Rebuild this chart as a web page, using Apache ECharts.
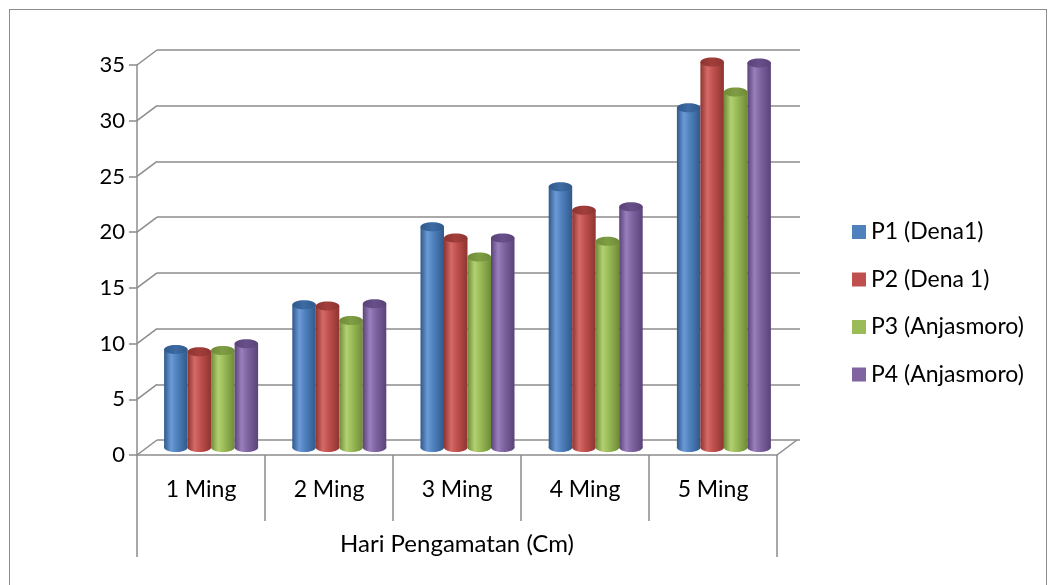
<!DOCTYPE html>
<html>
<head>
<meta charset="utf-8">
<script src="https://cdn.jsdelivr.net/npm/echarts@6/dist/echarts.min.js"></script>
<style>
html,body{margin:0;padding:0;background:#fff;}
#frame{position:absolute;left:9px;top:9px;width:1038px;height:600px;border:1.5px solid #8c8c8c;box-sizing:border-box;}
#chart{position:absolute;left:0;top:0;width:1055px;height:585px;}
</style>
</head>
<body>
<div id="frame"></div>
<div id="chart"></div>
<script>
const categories = ['1 Ming', '2 Ming', '3 Ming', '4 Ming', '5 Ming'];
const axisTitle = 'Hari Pengamatan (Cm)';
const seriesNames = ['P1 (Dena1)', 'P2 (Dena 1)', 'P3 (Anjasmoro)', 'P4 (Anjasmoro)'];
const p1 = [8.8, 12.8, 19.8, 23.4, 30.5];
const p2 = [8.6, 12.7, 18.8, 21.3, 34.6];
const p3 = [8.7, 11.4, 17.1, 18.5, 31.9];
const p4 = [9.3, 12.9, 18.8, 21.6, 34.5];
const yTicks = [0, 5, 10, 15, 20, 25, 30, 35];

const seriesValues = [p1, p2, p3, p4];
const palette = [
  {base: '#4F81BD', dark: '#30598c', light: '#6b9ad6', cap: '#3d6ba3'},
  {base: '#C0504D', dark: '#8e3431', light: '#d56a67', cap: '#a23e3b'},
  {base: '#9BBB59', dark: '#6f8b37', light: '#b2d070', cap: '#7f9e44'},
  {base: '#8064A2', dark: '#5a4378', light: '#9a7fbd', cap: '#694f8a'}
];
const FONT = 'Lato, "Open Sans", sans-serif';
const GRAY = '#8c8c8c';
const BAR_W = 23.5;
const DEPTH_X = 20, DEPTH_Y = 15;

const chart = echarts.init(document.getElementById('chart'), null, {renderer: 'canvas'});

function cylinderSeries(idx) {
  const pal = palette[idx];
  const bodyGrad = new echarts.graphic.LinearGradient(0, 0, 1, 0, [
    {offset: 0, color: pal.dark},
    {offset: 0.3, color: pal.light},
    {offset: 0.55, color: pal.base},
    {offset: 1, color: pal.dark}
  ]);
  const capGrad = new echarts.graphic.LinearGradient(0, 0, 1, 0, [
    {offset: 0, color: pal.dark},
    {offset: 0.5, color: pal.cap},
    {offset: 1, color: pal.dark}
  ]);
  return {
    name: seriesNames[idx],
    type: 'custom',
    xAxisIndex: 0,
    yAxisIndex: 0,
    itemStyle: {color: pal.base},
    encode: {x: 0, y: 1},
    data: seriesValues[idx].map((v, i) => [i, v]),
    renderItem: function (params, api) {
      const cat = api.value(0), val = api.value(1);
      const base = api.coord([cat, 0]);
      const top = api.coord([cat, val]);
      const cx = base[0] + (idx - 1.5) * BAR_W;
      const rx = BAR_W / 2, ry = 4.5;
      return {
        type: 'group',
        children: [
          {type: 'ellipse', shape: {cx: cx, cy: base[1], rx: rx, ry: ry}, style: {fill: bodyGrad}},
          {type: 'rect', shape: {x: cx - rx, y: top[1], width: BAR_W, height: base[1] - top[1]}, style: {fill: bodyGrad}},
          {type: 'ellipse', shape: {cx: cx, cy: top[1], rx: rx, ry: ry}, style: {fill: capGrad}}
        ]
      };
    }
  };
}

const edgeSeries = {
  type: 'custom',
  name: 'edges',
  xAxisIndex: 2,
  yAxisIndex: 2,
  silent: true,
  encode: {x: 0, y: 1},
  data: yTicks.map(v => [0, v]),
  renderItem: function (params, api) {
    const p = api.coord([0, api.value(1)]);
    const band = api.size([1, 0])[0];
    const x0 = p[0] - band / 2;
    const children = [{
      type: 'line',
      shape: {x1: x0, y1: p[1], x2: x0 + DEPTH_X, y2: p[1] - DEPTH_Y},
      style: {stroke: GRAY, lineWidth: 1.5}
    }];
    if (api.value(1) === 0) {
      const x1 = x0 + band * categories.length;
      children.push({
        type: 'line',
        shape: {x1: x1, y1: p[1], x2: x1 + DEPTH_X, y2: p[1] - DEPTH_Y},
        style: {stroke: GRAY, lineWidth: 1.5}
      });
    }
    return {type: 'group', children: children};
  }
};

const option = {
  animation: false,
  backgroundColor: 'transparent',
  textStyle: {fontFamily: FONT},
  legend: {
    orient: 'vertical',
    left: 847,
    top: 215,
    itemWidth: 14,
    itemHeight: 14,
    itemGap: 23.5,
    icon: 'rect',
    data: seriesNames,
    textStyle: {fontFamily: FONT, fontSize: 23, lineHeight: 24, color: '#000'}
  },
  grid: [
    {left: 147, top: 57.5, width: 641, height: 390},
    {left: 157, top: 50, width: 643, height: 390},
    {left: 137, top: 65, width: 640, height: 390}
  ],
  xAxis: [
    {type: 'category', gridIndex: 0, data: categories, show: false},
    {type: 'category', gridIndex: 1, data: categories, show: false},
    {
      type: 'category', gridIndex: 2, data: categories, position: 'bottom',
      axisLine: {show: true, lineStyle: {color: GRAY, width: 1.5}},
      axisTick: {show: true, length: 66, lineStyle: {color: GRAY, width: 1.5}},
      axisLabel: {margin: 23, fontSize: 23, color: '#000', fontFamily: FONT},
      splitLine: {show: false}
    },
    {
      type: 'category', gridIndex: 2, data: [axisTitle], position: 'bottom',
      axisLine: {show: false},
      axisTick: {show: true, length: 102, lineStyle: {color: GRAY, width: 1.5}},
      axisLabel: {margin: 77, fontSize: 24, color: '#000', fontFamily: FONT},
      splitLine: {show: false}
    }
  ],
  yAxis: [
    {type: 'value', gridIndex: 0, min: 0, max: 35, interval: 5, show: false},
    {
      type: 'value', gridIndex: 1, min: 0, max: 35, interval: 5,
      axisLine: {show: false}, axisTick: {show: false}, axisLabel: {show: false},
      splitLine: {show: true, lineStyle: {color: GRAY, width: 1.5}}
    },
    {
      type: 'value', gridIndex: 2, min: 0, max: 35, interval: 5,
      axisLine: {show: true, lineStyle: {color: GRAY, width: 1.5}},
      axisTick: {show: true, length: 8, lineStyle: {color: GRAY, width: 1.5}},
      axisLabel: {margin: 12, fontSize: 22, color: '#000', fontFamily: FONT},
      splitLine: {show: false}
    }
  ],
  series: [edgeSeries].concat([0, 1, 2, 3].map(cylinderSeries))
};
chart.setOption(option);
</script>
</body>
</html>
